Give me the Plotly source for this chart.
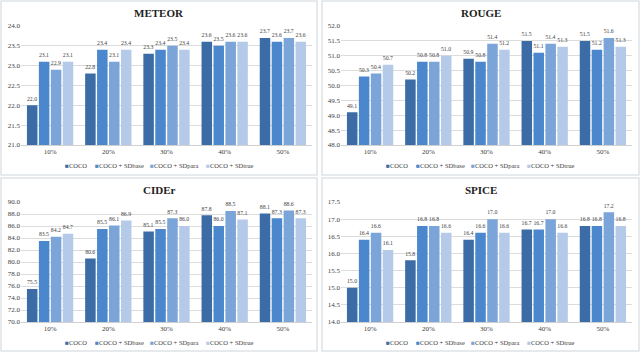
import plotly.graph_objects as go

# Данные
groups = ["10%", "20%", "30%", "40%", "50%"]
series_names = ["COCO", "COCO + SDbase", "COCO + SDpara", "COCO + SDtrue"]
colors = ["#3b6ca5", "#4a87cc", "#7ba4d9", "#b5cae9"]

meteor_coco = [22.0, 22.8, 23.3, 23.6, 23.7]
meteor_base = [23.1, 23.4, 23.4, 23.5, 23.6]
meteor_para = [22.9, 23.1, 23.5, 23.6, 23.7]
meteor_true = [23.1, 23.4, 23.4, 23.6, 23.6]

rouge_coco = [49.1, 50.2, 50.9, 51.5, 51.5]
rouge_base = [50.3, 50.8, 50.8, 51.1, 51.2]
rouge_para = [50.4, 50.8, 51.4, 51.4, 51.6]
rouge_true = [50.7, 51.0, 51.2, 51.3, 51.3]

cider_coco = [75.5, 80.6, 85.1, 87.8, 88.1]
cider_base = [83.5, 85.5, 85.5, 86.0, 87.3]
cider_para = [84.2, 86.1, 87.3, 88.5, 88.6]
cider_true = [84.7, 86.9, 86.0, 87.1, 87.3]

spice_coco = [15.0, 15.8, 16.4, 16.7, 16.8]
spice_base = [16.4, 16.8, 16.6, 16.7, 16.8]
spice_para = [16.6, 16.8, 17.0, 17.0, 17.2]
spice_true = [16.1, 16.6, 16.6, 16.6, 16.8]

panels = [
    ("METEOR", [meteor_coco, meteor_base, meteor_para, meteor_true], [21.0, 24.0], 0.5),
    ("ROUGE", [rouge_coco, rouge_base, rouge_para, rouge_true], [48.0, 52.0], 0.5),
    ("CIDEr", [cider_coco, cider_base, cider_para, cider_true], [70.0, 90.0], 2.0),
    ("SPICE", [spice_coco, spice_base, spice_para, spice_true], [14.0, 17.5], 0.5),
]

W, H = 640, 352
FONT = "Liberation Serif"

# Геометрия панелей в пикселях: рамки и области графика
boxes = [(1, 1, 317, 175), (322, 1, 639, 175), (1, 178, 317, 351), (322, 178, 639, 351)]
plot_x = [(21, 312), (341, 632), (21, 312), (341, 632)]
plot_y = [(26, 145), (26, 145), (202, 322), (202, 322)]

fig = go.Figure()
shapes = []
annotations = []

for i, (title, values, yr, dt) in enumerate(panels):
    n = "" if i == 0 else str(i + 1)
    for name, vals, col in zip(series_names, values, colors):
        fig.add_trace(go.Bar(
            x=groups, y=vals, name=name,
            marker=dict(color=col, line=dict(width=0)),
            text=[f"{v:.1f}" for v in vals],
            textposition="outside",
            textfont=dict(family=FONT, size=7, color="#404040"),
            cliponaxis=False,
            xaxis="x" + n, yaxis="y" + n,
            showlegend=False,
        ))

    x0, x1 = plot_x[i]
    y0, y1 = plot_y[i]
    fig.update_layout(**{
        "xaxis" + n: dict(
            domain=[x0 / W, x1 / W], anchor="y" + n, automargin=False,
            showgrid=False, showline=True, linecolor="#d0d0d0", linewidth=1,
            ticks="", tickfont=dict(family=FONT, size=7, color="#404040"),
        ),
        "yaxis" + n: dict(
            domain=[1 - y1 / H, 1 - y0 / H], anchor="x" + n, automargin=False,
            range=yr, dtick=dt, tick0=yr[0], tickformat=".1f",
            showgrid=True, gridcolor="#dcdcdc", gridwidth=1,
            zeroline=False, showline=False, ticks="",
            tickfont=dict(family=FONT, size=7, color="#404040"),
        ),
    })

    bx0, by0, bx1, by1 = boxes[i]
    shapes.append(dict(
        type="rect", xref="paper", yref="paper",
        x0=bx0 / W, x1=bx1 / W, y0=1 - by1 / H, y1=1 - by0 / H,
        line=dict(color="#dfe3e8", width=1.5), fillcolor="rgba(0,0,0,0)",
    ))

    # Заголовок панели
    annotations.append(dict(
        text=f"<b>{title}</b>", xref="paper", yref="paper",
        x=(bx0 + bx1) / 2 / W, y=1 - (by0 + 12) / H,
        showarrow=False, font=dict(family=FONT, size=11, color="#222222"),
        xanchor="center", yanchor="middle",
    ))

    # Легенда
    ly = by0 + 164
    for off, name, col in zip([63, 93, 148, 204], series_names, colors):
        annotations.append(dict(
            text=f"<span style='color:{col}'>■</span>{name}",
            xref="paper", yref="paper",
            x=(bx0 + off - 1) / W, y=1 - ly / H,
            showarrow=False, font=dict(family=FONT, size=6.5, color="#404040"),
            xanchor="left", yanchor="middle",
        ))

fig.update_layout(
    width=W, height=H,
    margin=dict(l=0, r=0, t=0, b=0, autoexpand=False),
    paper_bgcolor="white", plot_bgcolor="white",
    barmode="group", bargap=0.18, bargroupgap=0.12,
    shapes=shapes, annotations=annotations,
)

# Убираем отступ страницы и панель инструментов
fig.write_html(
    "out.html",
    config={"displayModeBar": False},
    post_script="document.body.style.margin='0';",
)
